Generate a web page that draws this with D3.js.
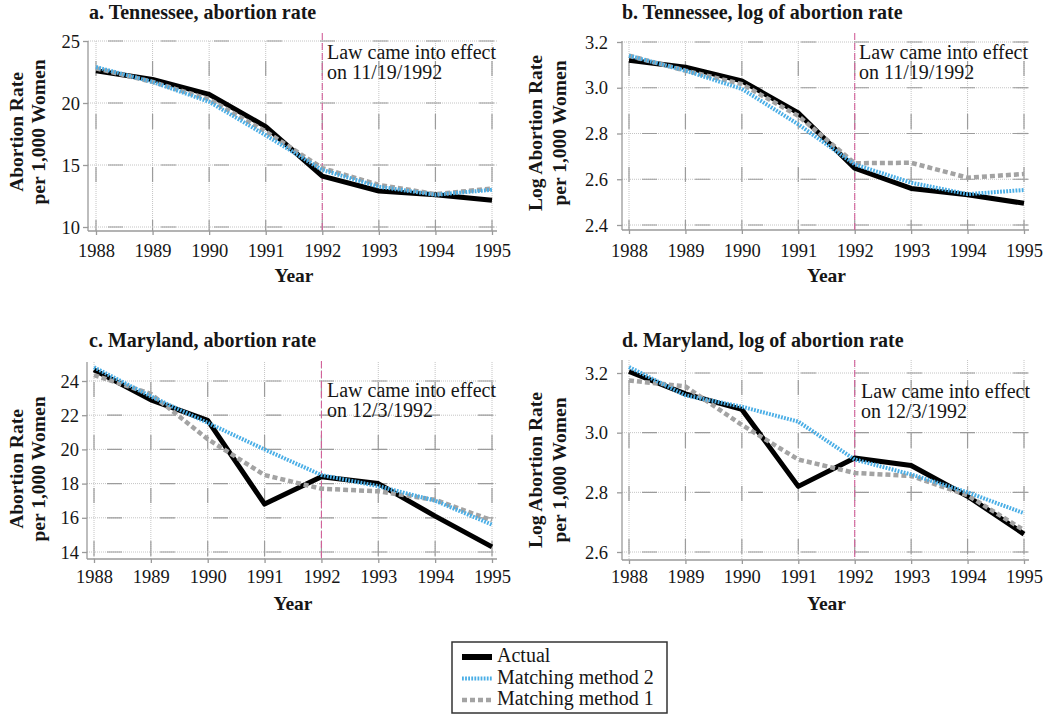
<!DOCTYPE html>
<html>
<head>
<meta charset="utf-8">
<script src="https://cdn.jsdelivr.net/npm/d3@7"></script>
<style>
body { margin: 0; background: #fff; }
svg { display: block; }
text { font-family: "Liberation Serif", "DejaVu Serif", serif; fill: #161616; }
</style>
</head>
<body>
<div id="chart"></div>
<script>
// data
var years = [1988, 1989, 1990, 1991, 1992, 1993, 1994, 1995];

var tnRateActual = [22.6, 21.9, 20.7, 18.1, 14.1, 12.9, 12.6, 12.15];
var tnRateM2     = [22.9, 21.7, 20.1, 17.4, 14.6, 13.25, 12.6, 13.0];
var tnRateM1     = [22.8, 21.7, 20.3, 17.7, 14.75, 13.4, 12.65, 13.1];

var tnLogActual = [3.12, 3.09, 3.03, 2.89, 2.648, 2.56, 2.532, 2.495];
var tnLogM2     = [3.14, 3.075, 2.995, 2.84, 2.665, 2.585, 2.535, 2.553];
var tnLogM1     = [3.14, 3.075, 3.016, 2.877, 2.67, 2.672, 2.607, 2.623];

var mdRateActual = [24.65, 22.9, 21.7, 16.8, 18.4, 18.0, 16.1, 14.3];
var mdRateM2     = [24.8, 23.1, 21.55, 20.0, 18.5, 17.85, 17.0, 15.6];
var mdRateM1     = [24.35, 23.25, 20.6, 18.5, 17.7, 17.55, 17.05, 15.85];

var mdLogActual = [3.205, 3.13, 3.078, 2.82, 2.915, 2.89, 2.787, 2.66];
var mdLogM2     = [3.22, 3.125, 3.087, 3.037, 2.91, 2.86, 2.80, 2.73];
var mdLogM1     = [3.175, 3.155, 3.026, 2.91, 2.865, 2.855, 2.79, 2.673];

var rateTicksTN = [10, 15, 20, 25];
var logTicksTN  = [2.4, 2.6, 2.8, 3.0, 3.2];
var rateTicksMD = [14, 16, 18, 20, 22, 24];
var logTicksMD  = [2.6, 2.8, 3.0, 3.2];

var lawYear = 1992;
var seriesNames = ["Actual", "Matching method 2", "Matching method 1"];

// line styles
var styles = {
  actual: { stroke: "#000", width: 5, dash: null },
  m2:     { stroke: "#4aaee6", width: 4, dash: "1.8,1.3" },
  m1:     { stroke: "#a3a3a3", width: 4.5, dash: "5,3" }
};

var svg = d3.select("#chart").append("svg")
    .attr("width", 1050).attr("height", 717);

var panels = [
  { title: "a. Tennessee, abortion rate", ylab: ["Abortion Rate", "per 1,000 Women"],
    law: "on 11/19/1992", ticks: rateTicksTN, fmt: d3.format("d"),
    actual: tnRateActual, m2: tnRateM2, m1: tnRateM1,
    x0: 96, x1: 492, y0: 227, y1: 41, top: 41, lawTop: 33, axisX: 88, axisY: 231, right: 497,
    labX: 80, titleX: 89, titleY: 19, ylabY: 132, ylabX: [23, 45], annX: 327, annY: 59,
    yearY: 257, yearLabY: 282 },
  { title: "b. Tennessee, log of abortion rate", ylab: ["Log Abortion Rate", "per 1,000 Women"],
    law: "on 11/19/1992", ticks: logTicksTN, fmt: d3.format(".1f"),
    actual: tnLogActual, m2: tnLogM2, m1: tnLogM1,
    x0: 629, x1: 1024, y0: 225, y1: 42, top: 41, lawTop: 33, axisX: 622, axisY: 230, right: 1029,
    labX: 608, titleX: 622, titleY: 19, ylabY: 133, ylabX: [542, 566], annX: 859, annY: 59,
    yearY: 257, yearLabY: 282 },
  { title: "c. Maryland, abortion rate", ylab: ["Abortion Rate", "per 1,000 Women"],
    law: "on 12/3/1992", ticks: rateTicksMD, fmt: d3.format("d"),
    actual: mdRateActual, m2: mdRateM2, m1: mdRateM1,
    x0: 94, x1: 492, y0: 552, y1: 381, top: 362, lawTop: 361, axisX: 87, axisY: 559, right: 497,
    labX: 79, titleX: 89, titleY: 347, ylabY: 469, ylabX: [23, 45], annX: 327, annY: 397,
    yearY: 583, yearLabY: 610 },
  { title: "d. Maryland, log of abortion rate", ylab: ["Log Abortion Rate", "per 1,000 Women"],
    law: "on 12/3/1992", ticks: logTicksMD, fmt: d3.format(".1f"),
    actual: mdLogActual, m2: mdLogM2, m1: mdLogM1,
    x0: 629, x1: 1024, y0: 552, y1: 373, top: 360, lawTop: 360, axisX: 622, axisY: 560, right: 1029,
    labX: 608, titleX: 622, titleY: 347, ylabY: 470, ylabX: [542, 566], annX: 861, annY: 398,
    yearY: 583, yearLabY: 610 }
];

// excel-ish gridline: fine dots with long grey dashes on top
function gridLine(g, xa, ya, xb, yb) {
  g.append("line").attr("x1", xa).attr("y1", ya).attr("x2", xb).attr("y2", yb)
    .attr("stroke", "#c4c4c4").attr("stroke-width", 1).attr("stroke-dasharray", "1,1");
  g.append("line").attr("x1", xa).attr("y1", ya).attr("x2", xb).attr("y2", yb)
    .attr("stroke", "#9c9c9c").attr("stroke-width", 1.2).attr("stroke-dasharray", "15,38")
    .attr("stroke-dashoffset", -20);
}

panels.forEach(function(p) {
  var x = d3.scaleLinear().domain([years[0], years[years.length - 1]]).range([p.x0, p.x1]);
  var y = d3.scaleLinear().domain([p.ticks[0], p.ticks[p.ticks.length - 1]]).range([p.y0, p.y1]);
  var g = svg.append("g");

  // grid
  var grid = g.append("g");
  years.forEach(function(yr) { gridLine(grid, x(yr), p.top, x(yr), p.axisY); });
  p.ticks.forEach(function(t) { gridLine(grid, p.axisX, y(t), p.right, y(t)); });

  // axes
  g.append("line").attr("x1", p.axisX).attr("x2", p.axisX).attr("y1", p.top).attr("y2", p.axisY)
    .attr("stroke", "#9a9a9a").attr("stroke-width", 1.3);
  g.append("line").attr("x1", p.axisX).attr("x2", p.right).attr("y1", p.axisY).attr("y2", p.axisY)
    .attr("stroke", "#9a9a9a").attr("stroke-width", 1.3);

  var ya = g.append("g").attr("transform", "translate(" + p.axisX + ",0)")
    .call(d3.axisLeft(y).tickValues(p.ticks).tickFormat(p.fmt).tickSize(5).tickSizeOuter(0)
      .tickPadding(p.axisX - p.labX - 5));
  ya.select(".domain").remove();
  ya.selectAll(".tick line").attr("stroke", "#9a9a9a").attr("stroke-width", 1.3);
  ya.selectAll(".tick text").attr("font-family", "Liberation Serif").attr("font-size", 18.5)
    .attr("fill", "#161616").attr("dy", "0.33em");

  var xa = g.append("g").attr("transform", "translate(0," + p.axisY + ")")
    .call(d3.axisBottom(x).tickValues(years).tickFormat(d3.format("d")).tickSize(4).tickSizeOuter(0));
  xa.select(".domain").remove();
  xa.selectAll(".tick line").attr("stroke", "#9a9a9a").attr("stroke-width", 1.3);
  xa.selectAll(".tick text").attr("font-family", "Liberation Serif").attr("font-size", 18.5)
    .attr("fill", "#161616").attr("y", p.yearY - p.axisY).attr("dy", 0);

  // law line
  g.append("line").attr("x1", x(lawYear)).attr("x2", x(lawYear))
    .attr("y1", p.lawTop).attr("y2", p.axisY)
    .attr("stroke", "#d2609a").attr("stroke-width", 1.1).attr("stroke-dasharray", "7,3");

  // series: actual underneath, then method 1, then method 2
  var line = d3.line().x(function(d, i) { return x(years[i]); }).y(function(d) { return y(d); });
  [["actual", p.actual], ["m1", p.m1], ["m2", p.m2]].forEach(function(s) {
    var st = styles[s[0]];
    g.append("path").datum(s[1]).attr("d", line)
      .attr("fill", "none").attr("stroke", st.stroke).attr("stroke-width", st.width)
      .attr("stroke-dasharray", st.dash).attr("stroke-linejoin", "round");
  });

  // annotation
  var ann = g.append("text").attr("font-size", 20);
  ann.append("tspan").attr("x", p.annX).attr("y", p.annY).text("Law came into effect");
  ann.append("tspan").attr("x", p.annX).attr("y", p.annY + 20).text(p.law);

  // title
  g.append("text").attr("x", p.titleX).attr("y", p.titleY)
    .attr("font-size", 20).attr("font-weight", "bold").text(p.title);

  // y label
  p.ylab.forEach(function(t, i) {
    g.append("text").attr("transform", "translate(" + p.ylabX[i] + "," + p.ylabY + ") rotate(-90)")
      .attr("text-anchor", "middle").attr("font-size", 19.5).attr("font-weight", "bold").text(t);
  });

  // x label
  g.append("text").attr("x", (p.x0 + p.x1) / 2).attr("y", p.yearLabY)
    .attr("text-anchor", "middle").attr("font-size", 19.5).attr("font-weight", "bold").text("Year");
});

// legend
var leg = svg.append("g").attr("transform", "translate(452,642)");
leg.append("rect").attr("width", 215).attr("height", 71)
  .attr("fill", "#fff").attr("stroke", "#333").attr("stroke-width", 1.5);
var legKeys = ["actual", "m2", "m1"];
var legY = d3.scalePoint().domain(seriesNames).range([15, 58]);
seriesNames.forEach(function(name, i) {
  var st = styles[legKeys[i]];
  leg.append("line").attr("x1", 10).attr("x2", 40).attr("y1", legY(name)).attr("y2", legY(name))
    .attr("stroke", st.stroke).attr("stroke-width", i == 0 ? 6 : st.width)
    .attr("stroke-dasharray", st.dash);
  leg.append("text").attr("x", 45).attr("y", legY(name) + 5).attr("font-size", 20).text(name);
});
</script>
</body>
</html>
